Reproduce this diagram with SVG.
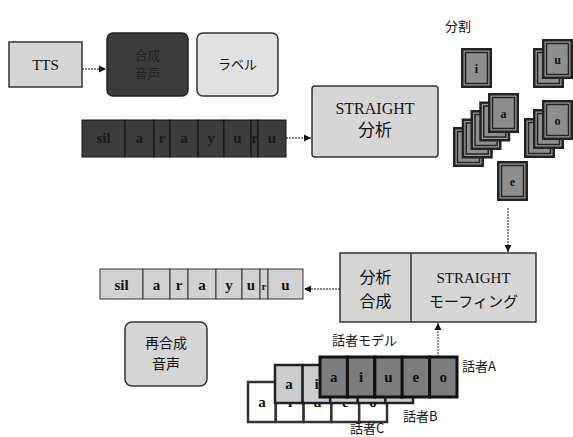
<svg xmlns="http://www.w3.org/2000/svg" width="573" height="437" viewBox="0 0 573 437">
<style>
.lt{fill:#d6d6d6;stroke:#333;stroke-width:1.5}
.dk{fill:#3c3c3c;stroke:#222;stroke-width:1.5}
.sr{font-family:"Liberation Serif","DejaVu Serif",serif;fill:#111;text-anchor:middle}
.jp{font-family:"Noto Sans CJK JP","Noto Sans",sans-serif;fill:#111;text-anchor:middle}
.jl{font-family:"Noto Sans CJK JP","Noto Sans",sans-serif;fill:#111;font-size:13px}
.cell{fill:#d2d2d2;stroke:#333;stroke-width:1}
.dcell{fill:#3c3c3c;stroke:#111;stroke-width:1}
.cl{font-family:"Liberation Serif","DejaVu Serif",serif;font-size:15px;font-weight:bold;text-anchor:middle;fill:#111}
.ca{fill:#7c7c7c;stroke:#111;stroke-width:3}
.cb{fill:#cdcdcd;stroke:#222;stroke-width:2.5}
.cc{fill:#fff;stroke:#333;stroke-width:2.5}
.con{stroke:#111;stroke-width:1;fill:none;stroke-dasharray:2 1}
</style>
<defs>
<marker id="ah" markerWidth="8" markerHeight="8" refX="7" refY="4" orient="auto" markerUnits="userSpaceOnUse">
<path d="M0,0.5 L7,4 L0,7.5 z" fill="#111"/>
</marker>
<g id="card">
<rect x="0" y="0" width="31" height="40" fill="#222"/>
<rect x="2.5" y="2.5" width="26" height="35" fill="#9a9a9a"/>
<rect x="4.5" y="4.5" width="22" height="31" fill="#8e8e8e" stroke="#222" stroke-width="1.5"/>
</g>
</defs>

<g id="tts">
<rect class="lt" x="9" y="42" width="73" height="45"/>
<text class="sr" x="45.5" y="70" font-size="15">TTS</text>
</g>
<g id="speech">
<rect class="dk" x="107" y="33" width="81" height="63" rx="6"/>
<text class="jp" x="147.5" y="60" font-size="13" style="fill:#222">合成</text>
<text class="jp" x="147.5" y="78" font-size="13" style="fill:#222">音声</text>
</g>
<g id="label">
<rect class="lt" x="197" y="33" width="81" height="63" rx="6" style="fill:#e2e2e2"/>
<text class="jp" x="237.5" y="69" font-size="13">ラベル</text>
</g>
<g id="darkbar">
<rect class="dcell" x="82" y="120" width="43" height="37"/>
<rect class="dcell" x="125" y="120" width="29" height="37"/>
<rect class="dcell" x="154" y="120" width="16" height="37"/>
<rect class="dcell" x="170" y="120" width="28" height="37"/>
<rect class="dcell" x="198" y="120" width="26" height="37"/>
<rect class="dcell" x="224" y="120" width="27" height="37"/>
<rect class="dcell" x="251" y="120" width="7" height="37"/>
<rect class="dcell" x="258" y="120" width="28" height="37"/>
<text class="cl" x="103.5" y="143" style="fill:#1a1a1a">sil</text>
<text class="cl" x="139.5" y="143" style="fill:#1a1a1a">a</text>
<text class="cl" x="162" y="143" style="fill:#1a1a1a">r</text>
<text class="cl" x="184" y="143" style="fill:#1a1a1a">a</text>
<text class="cl" x="211" y="143" style="fill:#1a1a1a">y</text>
<text class="cl" x="237.5" y="143" style="fill:#1a1a1a">u</text>
<text class="cl" x="254.5" y="143" font-size="10" style="fill:#1a1a1a">r</text>
<text class="cl" x="272" y="143" style="fill:#1a1a1a">u</text>
</g>
<g id="straight-analysis">
<rect class="lt" x="312" y="86" width="126" height="71" rx="3"/>
<text class="sr" x="375" y="114" font-size="16">STRAIGHT</text>
<text class="jp" x="375" y="136" font-size="17">分析</text>
</g>
<g id="split-label">
<text class="jp" x="458" y="31" font-size="13">分割</text>
</g>
<g id="cards">
<use href="#card" x="461" y="48"/>
<text class="cl" x="476.5" y="73" style="font-size:12px">i</text>
<use href="#card" x="533" y="48"/>
<use href="#card" x="542" y="39"/>
<text class="cl" x="557.5" y="64" style="font-size:12px">u</text>
<use href="#card" x="453" y="127"/>
<use href="#card" x="461.75" y="118.5"/>
<use href="#card" x="470.5" y="110"/>
<use href="#card" x="479.25" y="101.5"/>
<use href="#card" x="488" y="93"/>
<text class="cl" x="503.5" y="118" style="font-size:12px">a</text>
<use href="#card" x="524" y="118"/>
<use href="#card" x="533" y="109"/>
<use href="#card" x="542" y="100"/>
<text class="cl" x="557.5" y="125" style="font-size:12px">o</text>
<use href="#card" x="497" y="161"/>
<text class="cl" x="512.5" y="186" style="font-size:12px">e</text>
</g>
<g id="synthesis">
<rect class="lt" x="340" y="253" width="196" height="69"/>
<line x1="411" y1="253" x2="411" y2="322" stroke="#333" stroke-width="1.5"/>
<text class="jp" x="375.5" y="283" font-size="16">分析</text>
<text class="jp" x="375.5" y="307" font-size="16">合成</text>
<text class="sr" x="473.5" y="283" font-size="15">STRAIGHT</text>
<text class="jp" x="473.5" y="307" font-size="15">モーフィング</text>
</g>
<g id="outbar">
<rect class="cell" x="100" y="269" width="43" height="30"/>
<rect class="cell" x="143" y="269" width="27" height="30"/>
<rect class="cell" x="170" y="269" width="18" height="30"/>
<rect class="cell" x="188" y="269" width="28" height="30"/>
<rect class="cell" x="216" y="269" width="26" height="30"/>
<rect class="cell" x="242" y="269" width="18" height="30"/>
<rect class="cell" x="260" y="269" width="8" height="30"/>
<rect class="cell" x="268" y="269" width="35" height="30"/>
<text class="cl" x="121.5" y="290">sil</text>
<text class="cl" x="156.5" y="290">a</text>
<text class="cl" x="179" y="290">r</text>
<text class="cl" x="202" y="290">a</text>
<text class="cl" x="229" y="290">y</text>
<text class="cl" x="251" y="290">u</text>
<text class="cl" x="264" y="290" style="font-size:11px">r</text>
<text class="cl" x="285.5" y="290">u</text>
</g>
<g id="resynth">
<rect class="lt" x="125" y="322" width="82" height="64" rx="7"/>
<text class="jp" x="166" y="348" font-size="14">再合成</text>
<text class="jp" x="166" y="369" font-size="14">音声</text>
</g>
<g id="speakerC">
<rect class="cc" x="248" y="382" width="27.8" height="40"/>
<rect class="cc" x="275.8" y="382" width="27.8" height="40"/>
<rect class="cc" x="303.6" y="382" width="27.8" height="40"/>
<rect class="cc" x="331.4" y="382" width="27.8" height="40"/>
<rect class="cc" x="359.2" y="382" width="27.8" height="40"/>
<text class="cl" x="262" y="407">a</text>
<text class="cl" x="290" y="407">i</text>
<text class="cl" x="317.5" y="407">u</text>
<text class="cl" x="345.3" y="407">e</text>
<text class="cl" x="373" y="407">o</text>
</g>
<g id="speakerB">
<rect class="cb" x="275" y="365" width="27.6" height="38"/>
<rect class="cb" x="302.6" y="365" width="27.6" height="38"/>
<rect class="cb" x="330.2" y="365" width="27.6" height="38"/>
<rect class="cb" x="357.8" y="365" width="27.6" height="38"/>
<rect class="cb" x="385.4" y="365" width="27.6" height="38"/>
<text class="cl" x="289" y="389">a</text>
<text class="cl" x="316.5" y="389">i</text>
<text class="cl" x="344" y="389">u</text>
<text class="cl" x="371.5" y="389">e</text>
<text class="cl" x="399" y="389">o</text>
</g>
<g id="speakerA">
<rect class="ca" x="320" y="357" width="27.4" height="40"/>
<rect class="ca" x="347.4" y="357" width="27.4" height="40"/>
<rect class="ca" x="374.8" y="357" width="27.4" height="40"/>
<rect class="ca" x="402.2" y="357" width="27.4" height="40"/>
<rect class="ca" x="429.6" y="357" width="27.4" height="40"/>
<text class="cl" x="333.7" y="382">a</text>
<text class="cl" x="361.1" y="382">i</text>
<text class="cl" x="388.5" y="382">u</text>
<text class="cl" x="415.9" y="382">e</text>
<text class="cl" x="443.3" y="382">o</text>
</g>
<g id="labels">
<text class="jl" x="332" y="345">話者モデル</text>
<text class="jl" x="462" y="371">話者A</text>
<text class="jl" x="403" y="421">話者B</text>
<text class="jl" x="350" y="433">話者C</text>
</g>
<g id="connectors">
<line class="con" x1="82" y1="69" x2="106" y2="69" marker-end="url(#ah)"/>
<line class="con" x1="286" y1="138" x2="311" y2="138" marker-end="url(#ah)"/>
<line class="con" x1="508" y1="208" x2="508" y2="252" marker-end="url(#ah)"/>
<line class="con" x1="340" y1="289" x2="304" y2="289" marker-end="url(#ah)"/>
<line class="con" x1="438" y1="357" x2="438" y2="323" marker-end="url(#ah)"/>
</g>
</svg>
